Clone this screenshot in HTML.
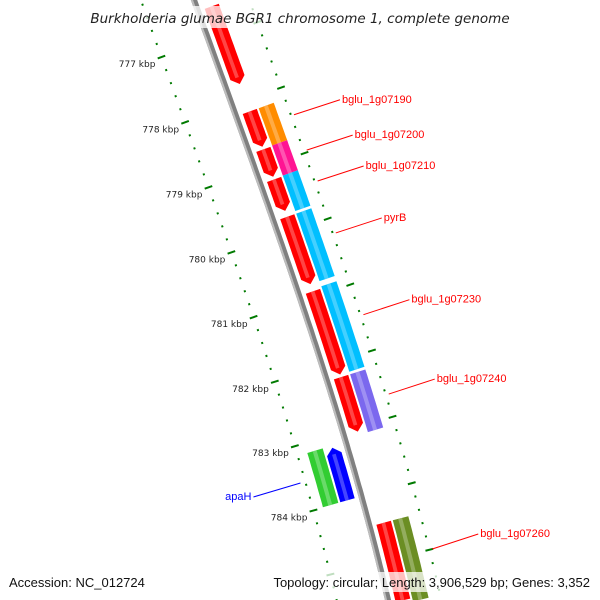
<!DOCTYPE html>
<html><head><meta charset="utf-8"><style>
html,body{margin:0;padding:0;background:#fff;overflow:hidden;width:600px;height:600px}
svg{display:block}
text{font-family:"DejaVu Sans","Liberation Sans",sans-serif}
</style></head><body>
<svg id="map" width="600" height="600" viewBox="0 0 600 600">
<g id="ticks"></g>
<g id="backbone"></g>
<g id="genes"></g>
<g id="labels"></g>
<g id="overlay"></g>
</svg>
<script>
const geneNames = ['g1','bglu_1g07190a','g3','g4','g5','g6','g7','g8','bglu_1g07190','bglu_1g07200','bglu_1g07210','pyrB','bglu_1g07230','bglu_1g07240','bglu_1g07260','apaH-blue','apaH'];
const geneStart = [776.54,778.15,778.73,779.19,779.76,780.90,782.21,784.43,778.15,778.72,779.18,779.76,780.87,782.21,784.43,783.16,783.13];
const geneEnd   = [777.77,778.73,779.19,779.71,780.83,782.21,783.08,785.65,778.76,779.22,779.76,780.83,782.21,783.13,785.70,784.01,784.01];
const geneSlot  = [1,1,1,1,1,1,1,1,2,2,2,2,2,2,2,-1,-2];
const geneColor = ['#ff0000','#ff0000','#ff0000','#ff0000','#ff0000','#ff0000','#ff0000','#ff0000','#ff8c00','#ff1493','#00bfff','#00bfff','#00bfff','#7b68ee','#6b8e23','#0000ff','#32cd32'];
const geneArrow = [1,1,1,1,1,1,1,0,0,0,0,0,0,0,0,-1,0];
const tickLabels = [777,778,779,780,781,782,783,784];
const labelText = ['bglu_1g07190','bglu_1g07200','bglu_1g07210','pyrB','bglu_1g07230','bglu_1g07240','apaH','bglu_1g07260'];
const labelKbp  = [778.43,778.97,779.44,780.23,781.47,782.67,783.55,785.0];
const labelColor= ['#ff0000','#ff0000','#ff0000','#ff0000','#ff0000','#ff0000','#0000ff','#ff0000'];
const labelSide = [1,1,1,1,1,1,-1,1];

const NS='http://www.w3.org/2000/svg';
function yOf(k){return 40+(k-777)*65.3;}
function bx(y){const t=y/200;return 194+72*t-5*t*(t-1)/2-7*t*(t-1)*(t-2)/6;}
function pt(k,off){const y=yOf(k);const s=(bx(y+0.5)-bx(y-0.5));const n=Math.hypot(s,1);return [bx(y)+off/n,y-off*s/n];}
function mk(tag,attrs,parent){const e=document.createElementNS(NS,tag);for(const a in attrs)e.setAttribute(a,attrs[a]);parent.appendChild(e);return e;}

const bb=document.getElementById('backbone');
let d='';for(let y=-10;y<=610;y+=5){d+=(y===-10?'M':'L')+bx(y).toFixed(1)+','+y;}
const bbl=mk('path',{d:d,fill:'none',stroke:'#808080','stroke-width':6},bb);


const bbh=mk('path',{d:d,fill:'none',stroke:'#bdbdbd','stroke-width':2,transform:'translate(-2,0)'},bb);



const tg=document.getElementById('ticks');
for(let i=0;i<=60;i++){
  const k=776.2+i*0.2;const major=Math.abs(k-Math.round(k))<0.01;
  [-50,52].forEach(o=>{
    const a=pt(k,o-(major?4:1)),b=pt(k,o+(major?4:1));
    const l=mk('line',{x1:a[0],y1:a[1],x2:b[0],y2:b[1],stroke:'#007a00','stroke-width':2},tg);
    
    
  });
}
tickLabels.forEach(k=>{
  const p=pt(k,-50);
  const t=mk('text',{x:p[0]-6,y:p[1]+10,'text-anchor':'end','font-size':9,fill:'#222'},tg);
  t.textContent=k+' kbp';
  
  
});

const gg=document.getElementById('genes');
function slotR(s){const a=Math.abs(s)===1?[7,22]:[24,40];return s>0?a:[-a[1],-a[0]];}
function lighten(c){const v=parseInt(c.slice(1),16);let r=v>>16,g=(v>>8)&255,b=v&255;r=Math.round(r+(255-r)*0.45);g=Math.round(g+(255-g)*0.45);b=Math.round(b+(255-b)*0.45);return `rgb(${r},${g},${b})`;}
for(let i=0;i<geneStart.length;i++){
  const [r1,r2]=slotR(geneSlot[i]);const s=geneStart[i]+0.02,e=geneEnd[i]-0.02;const head=0.1;
  let a=s,b=e;if(geneArrow[i]===1)b=e-head;if(geneArrow[i]===-1)a=s+head;
  const side1=[],side2=[];const N=12;
  for(let j=0;j<=N;j++){const k=a+(b-a)*j/N;side1.push(pt(k,r1));side2.push(pt(k,r2));}
  let pts=[...side1];
  if(geneArrow[i]===1)pts.push(pt(e,(r1+r2)/2));
  pts=pts.concat(side2.reverse());
  if(geneArrow[i]===-1)pts.push(pt(s,(r1+r2)/2));
  const poly=mk('polygon',{points:pts.map(p=>p[0].toFixed(1)+','+p[1].toFixed(1)).join(' '),fill:geneColor[i]},gg);
  
  
  const q1=[],q2=[];const ri=r1+(r2-r1)*0.35,ro=r1+(r2-r1)*0.6;
  for(let j=0;j<=N;j++){const k=a+(b-a)*j/N;q1.push(pt(k,ri));q2.push(pt(k,ro));}
  const sp=q1.concat(q2.reverse());
  const st=mk('polygon',{points:sp.map(p=>p[0].toFixed(1)+','+p[1].toFixed(1)).join(' '),fill:lighten(geneColor[i]),opacity:0.6},gg);
  
  
}

const lg=document.getElementById('labels');
for(let i=0;i<labelText.length;i++){
  const side=labelSide[i];
  const p=pt(labelKbp[i],side*55);
  const q=side>0?[p[0]+46,p[1]-15]:[p[0]-47,p[1]+14];
  const l=mk('line',{x1:p[0],y1:p[1],x2:q[0],y2:q[1],stroke:labelColor[i],'stroke-width':1},lg);
  
  
  const t=mk('text',{x:side>0?q[0]+2:q[0]-2,y:q[1]+3,'text-anchor':side>0?'start':'end','font-size':11,fill:labelColor[i],style:'font-family:"Liberation Sans",sans-serif'},lg);
  t.textContent=labelText[i];
  
  
}

const og=document.getElementById('overlay');
const r1=mk('rect',{x:86,y:6,width:428,height:22,fill:'#fff',opacity:0.75},og);


const ti=mk('text',{x:300,y:23,'text-anchor':'middle','font-size':13.5,'font-style':'italic',fill:'#222'},og);
ti.textContent='Burkholderia glumae BGR1 chromosome 1, complete genome';


const r2=mk('rect',{x:258,y:572,width:336,height:20,fill:'#fff',opacity:0.75},og);


const ac=mk('text',{x:9,y:587,'font-size':13,fill:'#111',style:'font-family:"Liberation Sans",sans-serif'},og);
ac.textContent='Accession: NC_012724';


const tp=mk('text',{x:590,y:587,'text-anchor':'end','font-size':13,fill:'#111',style:'font-family:"Liberation Sans",sans-serif'},og);
tp.textContent='Topology: circular; Length: 3,906,529 bp; Genes: 3,352';


</script>
</body></html>
